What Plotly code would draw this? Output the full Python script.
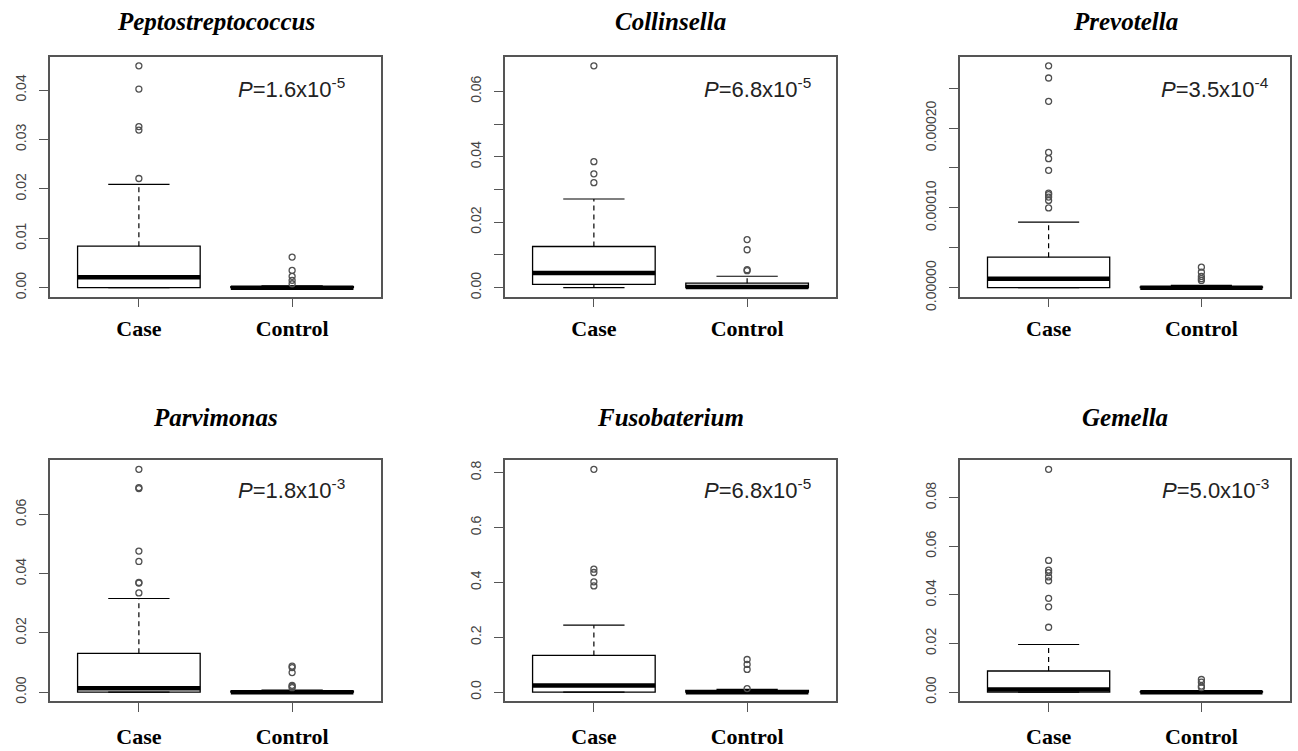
import plotly.graph_objects as go

# ---------------- data ----------------
genera = ["Peptostreptococcus", "Collinsella", "Prevotella",
          "Parvimonas", "Fusobaterium", "Gemella"]
groups = ["Case", "Control"]
p_mantissa = ["1.6", "6.8", "3.5", "1.8", "6.8", "5.0"]
p_exponent = ["-5", "-5", "-4", "-3", "-5", "-3"]

case_q1 = [0.0, 0.0010, 0.0, 0.0, 0.0, 0.0]
case_median = [0.0021, 0.0045, 1.13e-5, 0.0013, 0.0245, 0.0011]
case_q3 = [0.0084, 0.0126, 3.83e-5, 0.0131, 0.134, 0.0087]
case_lower = [0.0, 0.0, 0.0, 0.0, 0.0, 0.0]
case_upper = [0.0209, 0.0271, 8.22e-5, 0.0316, 0.244, 0.0196]
case_outliers = [
    [0.0221, 0.0319, 0.0326, 0.0402, 0.0449],
    [0.0321, 0.0348, 0.0385, 0.0678],
    [1.0e-4, 1.094e-4, 1.135e-4, 1.165e-4, 1.185e-4, 1.47e-4, 1.617e-4,
     1.695e-4, 2.335e-4, 2.627e-4, 2.78e-4],
    [0.0335, 0.0368, 0.0370, 0.0441, 0.0476, 0.0687, 0.0690, 0.0752],
    [0.387, 0.402, 0.436, 0.448, 0.812],
    [0.0267, 0.0351, 0.0386, 0.0458, 0.0474, 0.0492, 0.0502, 0.0542, 0.0917],
]

control_q1 = [0.0, 0.0, 0.0, 0.0, 0.0, 0.0]
control_median = [0.0, 0.0002, 0.0, 0.0, 0.0, 0.0]
control_q3 = [0.0002, 0.0014, 1.0e-6, 0.0003, 0.006, 0.0002]
control_lower = [0.0, 0.0, 0.0, 0.0, 0.0, 0.0]
control_upper = [0.0004, 0.0035, 3.0e-6, 0.0007, 0.010, 0.0006]
control_outliers = [
    [0.0008, 0.0015, 0.0023, 0.0035, 0.0062],
    [0.0052, 0.0055, 0.0116, 0.0147],
    [0.91e-5, 1.13e-5, 1.42e-5, 1.95e-5, 2.58e-5],
    [0.0015, 0.0019, 0.0023, 0.0066, 0.0083, 0.0088],
    [0.013, 0.083, 0.101, 0.119],
    [0.0019, 0.0025, 0.0041, 0.0052],
]

y_tickvals = [
    [0.0, 0.01, 0.02, 0.03, 0.04],
    [0.0, 0.02, 0.04, 0.06],
    [0.0, 1e-4, 2e-4],
    [0.0, 0.02, 0.04, 0.06],
    [0.0, 0.2, 0.4, 0.6, 0.8],
    [0.0, 0.02, 0.04, 0.06, 0.08],
]
y_ticktext = [
    ["0.00", "0.01", "0.02", "0.03", "0.04"],
    ["0.00", "0.02", "0.04", "0.06"],
    ["0.00000", "0.00010", "0.00020"],
    ["0.00", "0.02", "0.04", "0.06"],
    ["0.0", "0.2", "0.4", "0.6", "0.8"],
    ["0.00", "0.02", "0.04", "0.06", "0.08"],
]
y_minor_tickvals = [
    [],
    [0.01, 0.03, 0.05],
    [5e-5, 1.5e-4, 2.5e-4],
    [],
    [],
    [],
]

# ---------------- layout constants ----------------
W, H = 1298, 764          # the screenshot comes out ~1.7% shorter vertically
REF_H = 751
col_px = [(50, 381), (505, 836), (960, 1290)]
row_px = [(57, 297), (461, 702)]
title_y_px = [22, 418]
p_y_px = [88, 490]
p_x_frac = [0.897, 0.930, 0.942]
x_label_standoff = [2, 6]

group_pos = [1, 2]
box_w = 0.8
staple_w = 0.4
FRAME = "#555555"


def fx(px):
    return px / W


def fy(py):
    return 1 - py / REF_H


fig = go.Figure()
layout = dict(
    width=W, height=H, margin=dict(l=0, r=0, t=0, b=0),
    paper_bgcolor="white", plot_bgcolor="white", showlegend=False,
    annotations=[],
)

for i, name in enumerate(genera):
    r, c = divmod(i, 3)
    n = "" if i == 0 else str(i + 1)
    xa, ya = "x" + n, "y" + n
    xd = (fx(col_px[c][0]), fx(col_px[c][1]))
    yd = (fy(row_px[r][1]), fy(row_px[r][0]))

    q1 = [case_q1[i], control_q1[i]]
    med = [case_median[i], control_median[i]]
    q3 = [case_q3[i], control_q3[i]]
    lo = [case_lower[i], control_lower[i]]
    hi = [case_upper[i], control_upper[i]]
    outs = [case_outliers[i], control_outliers[i]]

    # box bodies
    fig.add_trace(go.Box(
        x=group_pos, q1=q1, median=med, q3=q3, lowerfence=q1, upperfence=q3,
        width=box_w, whiskerwidth=0, boxpoints=False,
        fillcolor="white", line=dict(color="black", width=1.3),
        xaxis=xa, yaxis=ya, hoverinfo="skip",
    ))

    # whiskers (dashed)
    wx, wy = [], []
    for k in range(2):
        wx += [group_pos[k], group_pos[k], None, group_pos[k], group_pos[k], None]
        wy += [q3[k], hi[k], None, q1[k], lo[k], None]
    fig.add_trace(go.Scatter(x=wx, y=wy, mode="lines",
                             line=dict(color="black", width=1.2, dash="5px,4px"),
                             xaxis=xa, yaxis=ya, hoverinfo="skip"))
    # staples
    sx, sy = [], []
    for k in range(2):
        for v in (hi[k], lo[k]):
            sx += [group_pos[k] - staple_w / 2, group_pos[k] + staple_w / 2, None]
            sy += [v, v, None]
    fig.add_trace(go.Scatter(x=sx, y=sy, mode="lines",
                             line=dict(color="black", width=1.2),
                             xaxis=xa, yaxis=ya, hoverinfo="skip"))
    # medians (thick)
    mx, my = [], []
    for k in range(2):
        mx += [group_pos[k] - box_w / 2, group_pos[k] + box_w / 2, None]
        my += [med[k], med[k], None]
    fig.add_trace(go.Scatter(x=mx, y=my, mode="lines",
                             line=dict(color="black", width=4.5),
                             xaxis=xa, yaxis=ya, hoverinfo="skip"))
    # outliers
    ox, oy = [], []
    for k in range(2):
        ox += [group_pos[k]] * len(outs[k])
        oy += outs[k]
    fig.add_trace(go.Scatter(x=ox, y=oy, mode="markers",
                             marker=dict(symbol="circle-open", size=6,
                                         color="#505050", line=dict(width=1.3)),
                             xaxis=xa, yaxis=ya, hoverinfo="skip"))

    all_vals = lo + hi + outs[0] + outs[1]
    ymin, ymax = min(all_vals), max(all_vals)
    pad = 0.04 * (ymax - ymin)
    xmin, xmax = group_pos[0] - 0.5, group_pos[-1] + 0.5
    xpad = 0.04 * (xmax - xmin)

    layout["xaxis" + n] = dict(
        domain=xd, anchor=ya, range=[xmin - xpad, xmax + xpad],
        tickvals=group_pos, ticktext=groups, ticks="outside", ticklen=9,
        tickcolor=FRAME, tickwidth=1.3, showgrid=False, zeroline=False,
        showline=True, mirror=True, linecolor=FRAME, linewidth=1.5,
        ticklabelstandoff=x_label_standoff[r],
        tickfont=dict(family="Liberation Serif", size=22, color="black",
                      weight="bold"),
    )
    yax = dict(
        domain=yd, anchor=xa, range=[ymin - pad, ymax + pad],
        tickvals=y_tickvals[i], ticktext=y_ticktext[i], ticks="outside",
        ticklen=9, tickcolor=FRAME, tickwidth=1.3, tickangle=-90,
        showgrid=False, zeroline=False, showline=True, mirror=True,
        linecolor=FRAME, linewidth=1.5, ticklabelstandoff=8,
        tickfont=dict(family="Liberation Sans", size=14, color="#444444"),
    )
    if y_minor_tickvals[i]:
        yax["minor"] = dict(tickvals=y_minor_tickvals[i], ticks="outside",
                            ticklen=9, tickcolor=FRAME, tickwidth=1.3,
                            showgrid=False)
    layout["yaxis" + n] = yax
    layout["annotations"].append(dict(
        text="<b><i>%s</i></b>" % name, xref=xa + " domain", x=0.5,
        yref="paper", y=fy(title_y_px[r]), xanchor="center",
        yanchor="middle", showarrow=False,
        font=dict(family="Liberation Serif", size=25, color="black"),
    ))
    layout["annotations"].append(dict(
        text="<i>P</i>=%sx10<sup>%s</sup>" % (p_mantissa[i], p_exponent[i]),
        xref=xa + " domain", x=p_x_frac[c], yref="paper",
        y=fy(p_y_px[r]), xanchor="right", yanchor="middle",
        showarrow=False,
        font=dict(family="Liberation Sans", size=22, color="#222222"),
    ))

fig.update_layout(**layout)
pin = ("document.documentElement.style.margin='0';"
       "document.body.style.margin='0';"
       "document.body.style.overflow='hidden';"
       "var d=document.getElementById('{plot_id}');"
       "d.style.position='fixed';d.style.left='0px';d.style.top='0px';")
fig.write_html("out.html", post_script=pin, config={"displayModeBar": False})
